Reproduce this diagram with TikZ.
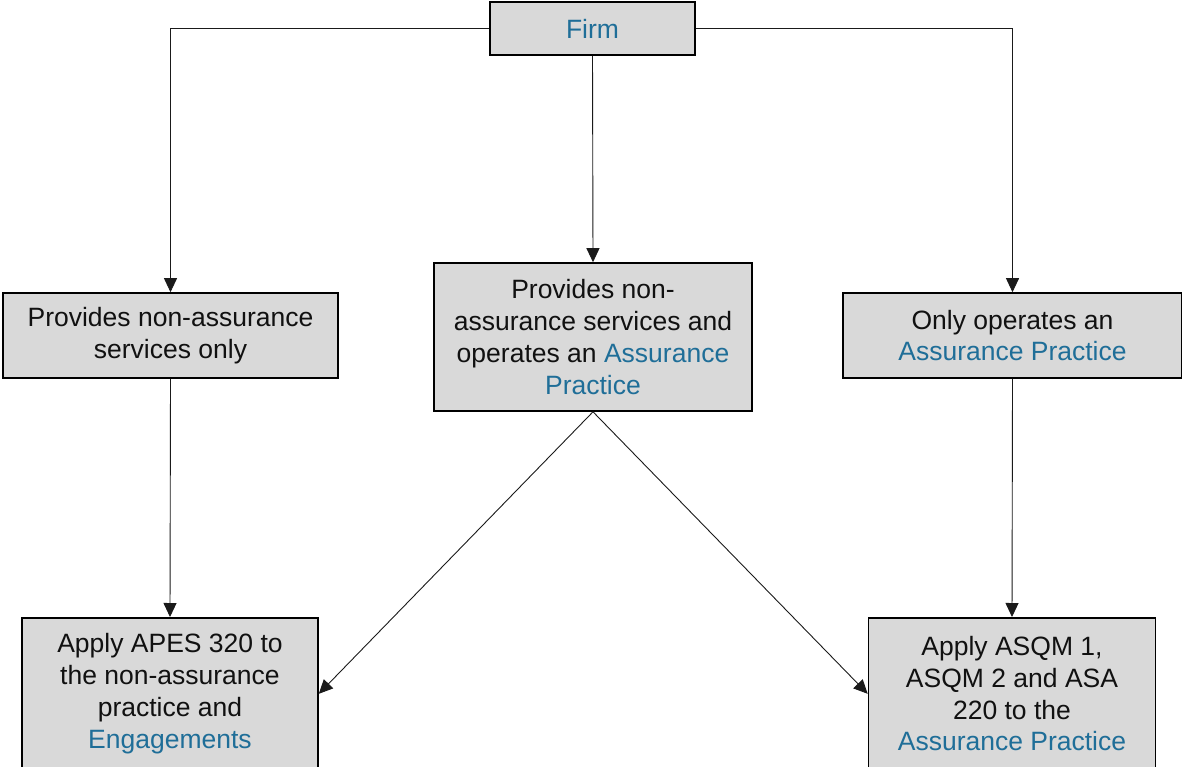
\documentclass[tikz,border=0pt]{standalone}
\usepackage{fontspec}
\setmainfont{Liberation Sans}
\usepackage{tikz}
\usetikzlibrary{arrows.meta,positioning,calc}
\definecolor{fwInk}{HTML}{111111}
\definecolor{fwBlue}{HTML}{1F6E98}
\definecolor{fwGray}{HTML}{D9D9D9}
\definecolor{fwLine}{HTML}{1A1A1A}
\newcommand{\hl}[1]{\textcolor{fwBlue}{#1}}
\tikzset{
  % Grey decision box
  cbox/.style={rectangle,draw=black,line width=1.6pt,fill=fwGray,
    align=center,font=\fontsize{26.5}{31.8}\selectfont,text=fwInk,
    inner sep=0pt},
  % Connectors
  arr/.style={-{Triangle[length=14pt,width=13pt]},line width=0.9pt,color=fwLine},
}

\begin{document}
\begin{tikzpicture}[x=1pt,y=-1pt]
  \useasboundingbox (0,0) rectangle (1182,767);

  % Top box
  \node[cbox,minimum width=205pt,minimum height=53pt] (firm) at (592.5,28.5)
    {\hl{Firm}};

  % Middle row
  \node[cbox,minimum width=335pt,minimum height=85pt] (nonassur) at (170.5,335.5)
    {Provides non-assurance\\services only};
  \node[cbox,minimum width=318pt,minimum height=148pt] (both) at (593,337)
    {Provides non-\\assurance services and\\operates an \hl{Assurance}\\\hl{Practice}};
  \node[cbox,minimum width=339pt,minimum height=85pt] (assur) at (1012.5,335.5)
    {Only operates an\\\hl{Assurance Practice}};

  % Bottom row
  \node[cbox,minimum width=296pt,minimum height=152pt,anchor=north] (apes) at (170,617)
    {Apply APES 320 to\\the non-assurance\\practice and\\\hl{Engagements}};
  \node[cbox,minimum width=287pt,minimum height=152pt,anchor=north] (asqm) at (1012,617)
    {Apply ASQM 1,\\ASQM 2 and ASA\\220 to the\\\hl{Assurance Practice}};

  % Connectors
  \draw[arr] (firm.west) -| (nonassur.north);
  \draw[arr] (firm.south) -- (both.north);
  \draw[arr] (firm.east) -| (assur.north);
  \draw[arr] (nonassur.south) -- (apes.north);
  \draw[arr] (assur.south) -- (asqm.north);
  \draw[arr] (both.south) -- (apes.east);
  \draw[arr] (both.south) -- (asqm.west);
\end{tikzpicture}
\end{document}
